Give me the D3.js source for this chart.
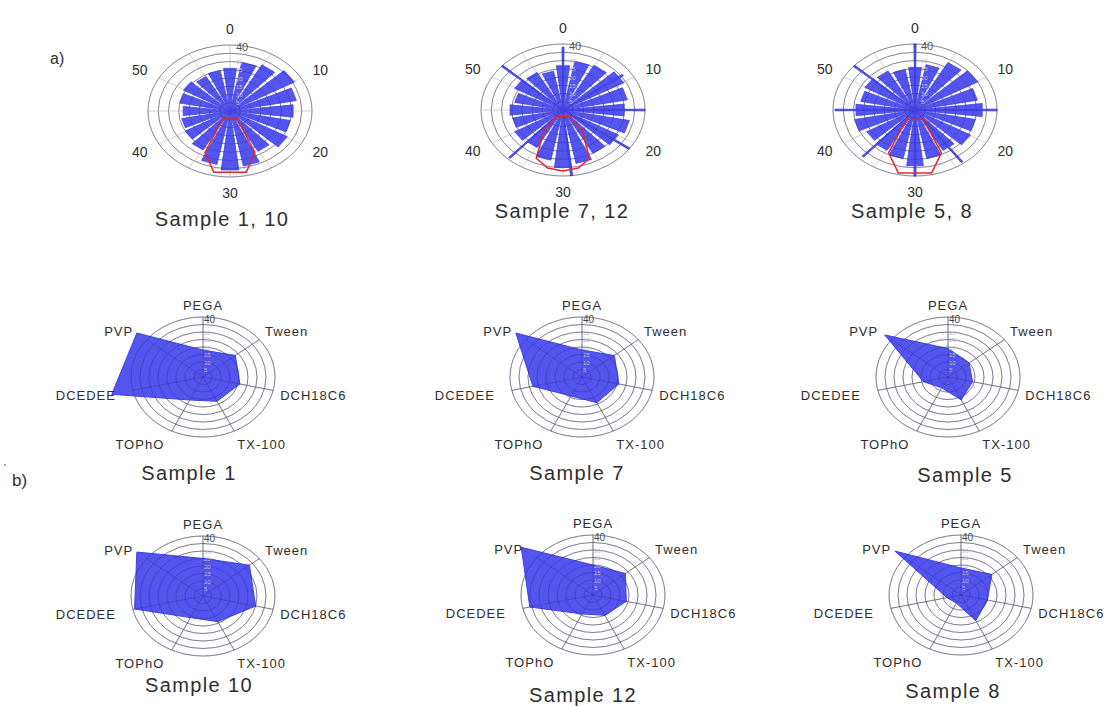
<!DOCTYPE html>
<html><head><meta charset="utf-8">
<script src="https://cdn.jsdelivr.net/npm/d3@7"></script>
<style>body{margin:0;background:#fff}svg{display:block}</style>
</head><body><svg id="fig" width="1115" height="708"></svg>
<script>
// ---------- data ----------
// rose (polar histogram) bins, angle scale 0–60
const roseTicks = [0, 10, 20, 30, 40, 50];
const roseRings = [5, 10, 15, 20, 25, 30, 35, 40];
const roseTickLabels = [5, 10, 15, 20, 25, 30];
const roseBins = [0, 3, 6, 9, 12, 15, 18, 21, 24, 27, 30, 33, 36, 39, 42, 45, 48, 51, 54, 57];
const roseS1_10 = [26, 30, 32, 36, 33, 31, 30, 32, 28, 34, 36, 33, 27, 25, 24, 23, 25, 26, 24, 25];
const roseS7_12 = [27, 30, 31, 34, 32, 30, 33, 31, 30, 33, 35, 31, 26, 27, 25, 26, 24, 27, 26, 24];
const roseS5_8  = [26, 28, 33, 35, 31, 33, 30, 31, 28, 30, 34, 30, 28, 27, 30, 29, 27, 28, 27, 25];
// thin single-bin spikes
const spikeAngS1_10 = [];
const spikeValS1_10 = [];
const spikeAngS7_12 = [0, 9, 15, 21, 29, 37, 52];
const spikeValS7_12 = [38, 36, 40, 40, 40, 39, 40];
const spikeAngS5_8  = [0, 15, 24, 30, 37, 45, 52];
const spikeValS5_8  = [40, 40, 39, 40, 38, 39, 40];
// red reference lobes around 30
const lobeAngS1_10 = [24, 25.7, 28, 32, 34.3, 36];
const lobeS1_10    = [6, 28, 38, 38, 28, 6];
const lobeAngS7_12 = [23, 24, 26, 28, 30, 32, 34, 36, 37];
const lobeS7_12    = [5, 16, 32, 36, 37, 36, 32, 16, 5];
const lobeAngS5_8  = [24, 25.6, 28, 32, 34.4, 36];
const lobeS5_8     = [7, 29, 39, 39, 29, 7];

// radar charts
const radarAxes = ["PEGA", "Tween", "DCH18C6", "TX-100", "TOPhO", "DCEDEE", "PVP"];
const radarRings = [5, 10, 15, 20, 25, 30, 35, 40];
const radarTickLabels = [5, 10, 15, 20, 25, 30];
const sample1  = [18, 23, 21, 18, 17, 52, 47];
const sample7  = [18, 23, 21, 19, 14, 28, 47];
const sample5  = [19, 15, 14, 17, 8, 14, 45];
const sample10 = [25, 33, 30, 19, 16, 39, 47];
const sample12 = [20, 23, 19, 15, 14, 36, 51];
const sample8  = [18, 22, 15, 19, 6, 8, 47];

// ---------- drawing ----------
const svg = d3.select("#fig");
svg.append("rect").attr("width", 1115).attr("height", 708).attr("fill", "#fff");

const BLUE = "#5454ef", BLUE_EDGE = "#4040e2", GRID = "#a8a8a8", INK = "#2e2e2e", RED = "#e3262a";
const FONT = "'Liberation Sans', Arial, sans-serif";

function title(x, y, t) {
  svg.append("text").attr("x", x).attr("y", y).attr("text-anchor", "middle").attr("font-size", 20)
    .attr("letter-spacing", 1.4).attr("fill", INK).attr("font-family", FONT).text(t);
}

// ----- rose charts -----
const RX = 82, RY = 66;
const roseAngle = d3.scaleLinear().domain([0, 60]).range([0, 2 * Math.PI]);
const roseR = d3.scaleLinear().domain([0, 40]).range([0, RY]);

function drawRose(cx, cy, vals, spA, spV, lobeA, lobeV) {
  const g = svg.append("g").attr("transform", `translate(${cx},${cy}) scale(${RX / RY},1)`);
  const radial = d3.lineRadial().angle(d => roseAngle(d[0])).radius(d => roseR(d[1]));
  const closed = d3.lineRadial().angle(d => roseAngle(d[0])).radius(d => roseR(d[1])).curve(d3.curveLinearClosed);

  roseRings.forEach(v => g.append("circle").attr("r", roseR(v)).attr("fill", "none")
    .attr("stroke", GRID).attr("stroke-width", 1).attr("vector-effect", "non-scaling-stroke"));
  d3.range(0, 60, 5).forEach(a => g.append("path").attr("d", radial([[a, 0], [a, 40]]))
    .attr("stroke", "#c4c4c4").attr("stroke-width", 0.8).attr("fill", "none").attr("vector-effect", "non-scaling-stroke"));

  // radial tick labels along the 0 direction
  roseTickLabels.forEach(v => svg.append("text").attr("x", cx + 6).attr("y", cy - roseR(v) + 2.5)
    .attr("font-size", 6).attr("fill", "#c2c2c2").attr("font-family", FONT).text(v));

  vals.forEach((v, i) => {
    const a = roseBins[i];
    g.append("path").attr("d", closed([[a, 0], [a - 1.15, v], [a + 1.15, v]]))
      .attr("fill", BLUE).attr("stroke", BLUE_EDGE).attr("stroke-width", 0.8).attr("vector-effect", "non-scaling-stroke");
  });
  spA.forEach((a, i) => {
    g.append("path").attr("d", closed([[a, 0], [a - 0.12, spV[i]], [a + 0.12, spV[i]]]))
      .attr("fill", BLUE).attr("stroke", BLUE_EDGE).attr("stroke-width", 1).attr("vector-effect", "non-scaling-stroke");
  });
  // rings faintly over the bars
  roseRings.forEach(v => g.append("circle").attr("r", roseR(v)).attr("fill", "none")
    .attr("stroke", "#1a1a6a").attr("stroke-opacity", 0.22).attr("stroke-width", 1).attr("vector-effect", "non-scaling-stroke"));

  g.append("path").attr("d", closed(lobeA.map((a, i) => [a, lobeV[i]])))
    .attr("fill", "none").attr("stroke", RED).attr("stroke-width", 1.5).attr("vector-effect", "non-scaling-stroke");

  svg.append("text").attr("x", cx + 6).attr("y", cy - RY + 6).attr("font-size", 11)
    .attr("fill", "#555").attr("font-family", FONT).text("40");

  roseTicks.forEach(t => {
    const a = roseAngle(t);
    svg.append("text").attr("x", cx + RX * 1.27 * Math.sin(a)).attr("y", cy - RY * 1.24 * Math.cos(a) + 5)
      .attr("text-anchor", "middle").attr("font-size", 14).attr("fill", INK).attr("font-family", FONT).text(t);
  });
}

drawRose(230, 111, roseS1_10, spikeAngS1_10, spikeValS1_10, lobeAngS1_10, lobeS1_10);
drawRose(563, 110, roseS7_12, spikeAngS7_12, spikeValS7_12, lobeAngS7_12, lobeS7_12);
drawRose(915, 110, roseS5_8, spikeAngS5_8, spikeValS5_8, lobeAngS5_8, lobeS5_8);
title(222, 226, "Sample 1, 10");
title(562, 218, "Sample 7, 12");
title(912, 218, "Sample 5, 8");

// ----- radar charts -----
const QX = 72, QY = 60;
const radarAngle = d3.scaleLinear().domain([0, radarAxes.length]).range([0, 2 * Math.PI]);
const radarR = d3.scaleLinear().domain([0, 40]).range([0, QY]);

function drawRadar(cx, cy, vals) {
  const g = svg.append("g").attr("transform", `translate(${cx},${cy}) scale(${QX / QY},1)`);
  const radial = d3.lineRadial().angle(d => radarAngle(d[0])).radius(d => radarR(d[1]));
  const closed = d3.lineRadial().angle(d => radarAngle(d[0])).radius(d => radarR(d[1])).curve(d3.curveLinearClosed);

  radarRings.forEach(v => g.append("circle").attr("r", radarR(v)).attr("fill", "none")
    .attr("stroke", GRID).attr("stroke-width", 1).attr("vector-effect", "non-scaling-stroke"));
  radarAxes.forEach((n, i) => g.append("path").attr("d", radial([[i, 0], [i, 40]]))
    .attr("stroke", "#9a9a9a").attr("stroke-width", 1).attr("fill", "none").attr("vector-effect", "non-scaling-stroke"));
  radarTickLabels.forEach(v => svg.append("text").attr("x", cx + 1).attr("y", cy - radarR(v) + 2.5)
    .attr("font-size", 6).attr("fill", "#c2c2c2").attr("font-family", FONT).text(v));

  g.append("path").attr("d", closed(vals.map((v, i) => [i, v])))
    .attr("fill", BLUE).attr("stroke", BLUE_EDGE).attr("stroke-width", 1).attr("vector-effect", "non-scaling-stroke");
  radarRings.forEach(v => g.append("circle").attr("r", radarR(v)).attr("fill", "none")
    .attr("stroke", "#1a1a6a").attr("stroke-opacity", 0.28).attr("stroke-width", 1).attr("vector-effect", "non-scaling-stroke"));
  radarAxes.forEach((n, i) => g.append("path").attr("d", radial([[i, 0], [i, 40]]))
    .attr("stroke", "#1a1a6a").attr("stroke-opacity", 0.25).attr("stroke-width", 1).attr("fill", "none").attr("vector-effect", "non-scaling-stroke"));

  svg.append("text").attr("x", cx + 1).attr("y", cy - QY + 6).attr("font-size", 10)
    .attr("fill", "#444").attr("font-family", FONT).text("40");

  radarAxes.forEach((n, i) => {
    const a = radarAngle(i), s = Math.sin(a), c = Math.cos(a);
    const anchor = s > 0.3 ? "start" : (s < -0.3 ? "end" : "middle");
    const kx = s > 0 ? 1.1 : 1.24;
    const ky = i === 0 ? 1.2 : (Math.abs(c) < 0.4 ? 1.34 : 1.24);
    svg.append("text").attr("x", cx + QX * kx * s).attr("y", cy - QY * ky * c + 5)
      .attr("text-anchor", anchor).attr("font-size", 13).attr("letter-spacing", 1)
      .attr("fill", INK).attr("font-family", FONT).text(n);
  });
}

drawRadar(203, 377, sample1);
drawRadar(582, 377, sample7);
drawRadar(948, 377, sample5);
drawRadar(203, 596, sample10);
drawRadar(593, 595, sample12);
drawRadar(961, 595, sample8);
title(189, 480, "Sample 1");
title(577, 480, "Sample 7");
title(965, 482, "Sample 5");
title(199, 692, "Sample 10");
title(583, 702, "Sample 12");
title(953, 698, "Sample 8");

svg.append("text").attr("x", 50).attr("y", 64).attr("font-size", 16).attr("fill", INK).attr("font-family", FONT).text("a)");
svg.append("text").attr("x", 12).attr("y", 486).attr("font-size", 17).attr("fill", INK).attr("font-family", FONT).text("b)");
svg.append("circle").attr("cx", 5).attr("cy", 465).attr("r", 1).attr("fill", "#888");
</script></body></html>
